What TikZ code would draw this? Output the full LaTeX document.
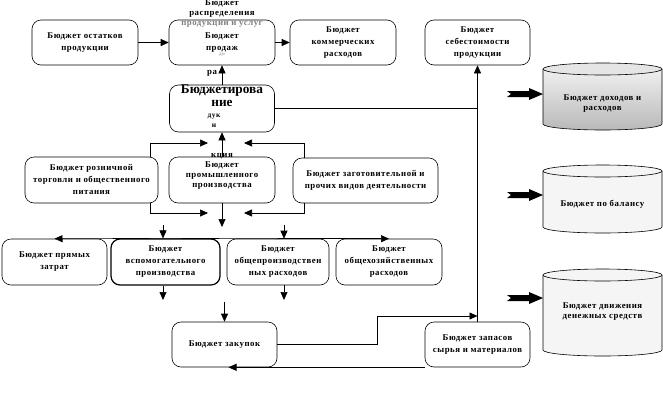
\documentclass[tikz,border=0pt]{standalone}
\usepackage{fontspec}
\setmainfont{Liberation Serif}
\newfontfamily\diafont[LetterSpace=6]{Liberation Serif}
\usetikzlibrary{arrows.meta, calc}

\tikzset{
    budgetbox/.style={draw, rounded corners=9pt, minimum height=45pt, align=center, inner sep=1pt, font=\diafont\bfseries\fontsize{8.8}{12}\selectfont},
    textonly/.style={align=center, inner sep=0pt, font=\diafont\bfseries\fontsize{8.8}{10}\selectfont},
    arr/.style={-{Triangle[length=8pt,width=7pt]}},
    cyl/.style={draw, line width=0.6pt}
}

\begin{document}
\begin{tikzpicture}[x=1pt, y=-1pt, line width=0.6pt]
    \useasboundingbox (0,0) rectangle (663,405);

    % Top row
    \node[budgetbox, minimum width=106pt] (ostatki) at (85,42.5) {Бюджет остатков\\продукции};
    \node[budgetbox, minimum width=106pt] (prodazhi) at (222,42.5) {Бюджет\\продаж};
    \node[textonly] (raspr) at (222,14) {Бюджет\\распределения\\\textcolor{gray}{продукции и услуг}};
    \node[textonly, font=\diafont\fontsize{5}{6}\selectfont, text=gray] (frdi) at (222,55) {ди};
    \node[budgetbox, minimum width=106pt] (kommerch) at (343,42.5) {Бюджет\\коммерческих\\расходов};
    \node[budgetbox, minimum width=105pt] (sebest) at (477.5,42.5) {Бюджет\\себестоимости\\продукции};
    \node[textonly] (frra) at (212,73) {ра};

    % Budgeting
    \node[budgetbox, minimum width=105pt, minimum height=47pt] (budget) at (222,108.5) {};
    \node[textonly, font=\bfseries\fontsize{13.3}{13}\selectfont] (budgettxt) at (222,96) {Бюджетирова\\ние};
    \node[textonly, font=\diafont\bfseries\fontsize{7.5}{10}\selectfont] (frduk) at (214,121) {дук\\н};

    % Second row
    \node[budgetbox, minimum width=133pt, minimum height=46pt] (roznica) at (91.5,180) {Бюджет розничной\\торговли и общественного\\питания};
    \node[budgetbox, minimum width=106pt, minimum height=46pt] (prom) at (222,180) {};
    \node[textonly] (promtxt) at (222,171) {кция\\Бюджет\\промышленного\\производства};
    \node[budgetbox, minimum width=145pt] (zagot) at (365.5,180.5) {Бюджет заготовительной и\\прочих видов деятельности};

    % Third row
    \node[budgetbox, minimum width=105pt, minimum height=46pt] (pryam) at (54.5,262) {Бюджет прямых\\затрат};
    \node[budgetbox, minimum width=109pt, minimum height=46pt, line width=1.2pt] (vspom) at (165.5,262) {Бюджет\\вспомогательного\\производства};
    \node[budgetbox, minimum width=102pt, minimum height=46pt] (obshepr) at (278,262) {Бюджет\\общепроизводствен\\ных расходов};
    \node[budgetbox, minimum width=106pt, minimum height=46pt] (obshehoz) at (389,262) {Бюджет\\общехозяйственных\\расходов};

    % Bottom row
    \node[budgetbox, minimum width=105pt] (zakup) at (224.5,344.5) {Бюджет закупок};
    \node[budgetbox, minimum width=105pt] (zapas) at (477.5,344.5) {Бюджет запасов\\сырья и материалов};

    % Cylinders
    \draw[cyl, top color=gray!12, bottom color=gray!55] (543,69) -- (543,124) arc[start angle=180, end angle=0, x radius=59.5, y radius=6] -- (662,69);
    \draw[cyl, fill=gray!20] (602.5,69) ellipse [x radius=59.5, y radius=6];
    \node[textonly] (dohody) at (602.5,104) {Бюджет доходов и\\расходов};

    \draw[cyl, fill=gray!8] (543,171) -- (543,227) arc[start angle=180, end angle=0, x radius=59.5, y radius=6] -- (662,171);
    \draw[cyl, fill=gray!8] (602.5,171) ellipse [x radius=59.5, y radius=6];
    \node[textonly] (balans) at (602.5,204) {Бюджет по балансу};

    \draw[cyl, fill=gray!8] (543,275) -- (543,350) arc[start angle=180, end angle=0, x radius=59.5, y radius=6] -- (662,275);
    \draw[cyl, fill=gray!8] (602.5,275) ellipse [x radius=59.5, y radius=6];
    \node[textonly] (dengi) at (602.5,312) {Бюджет движения\\денежных средств};

    % Block arrows
    \fill (507,91) -- (529,91) -- (529,88) -- (543,94) -- (529,100) -- (529,97) -- (507,97) -- (511,94) -- cycle;
    \fill (507,192) -- (529,192) -- (529,189) -- (543,195) -- (529,201) -- (529,198) -- (507,198) -- (511,195) -- cycle;
    \fill (507,295) -- (529,295) -- (529,292) -- (543,298) -- (529,304) -- (529,301) -- (507,301) -- (511,298) -- cycle;

    % Free ends
    \coordinate (lt) at (208,143);
    \coordinate (rt) at (244,143);
    \coordinate (lb) at (208,213);
    \coordinate (rb) at (244,213);
    \coordinate (pd) at (222,227);
    \coordinate (u1) at (163,225);
    \coordinate (u2) at (284,225);
    \coordinate (d1) at (163,300);
    \coordinate (d2) at (284,300);
    \coordinate (z0) at (224.5,302);
    \coordinate (jn) at (477.5,316);

    % Connectors
    \draw[arr] (ostatki.east) -- (prodazhi.west);
    \draw[arr] (prodazhi.east) -- (kommerch.west);
    \draw[arr] (budget.north) -- (prodazhi.south);
    \draw[arr] (prom.north) -- (budget.south);
    \draw (budget.east) -- (budget.east -| sebest.south);
    \draw[arr] (zapas.north) -- (sebest.south);

    \draw[arr] ([xshift=-8pt]roznica.north east) |- (lt);
    \draw[arr] ([xshift=-8pt]roznica.south east) |- (lb);
    \draw[arr] ([xshift=12pt]zagot.north west) |- (rt);
    \draw[arr] ([xshift=12pt]zagot.south west) |- (rb);
    \draw[arr] (prom.south) -- (pd);

    \draw[arr] (u1) -- (u1 |- vspom.north);
    \draw[arr] (u2) -- (u2 |- obshepr.north);
    \draw[arr] (vspom.north) -- (pryam.north);
    \draw (vspom.north) -- (obshepr.north);
    \draw[arr] (obshepr.north) -- (obshehoz.north);
    \draw[arr] (vspom.south -| d1) -- (d1);
    \draw[arr] (obshepr.south -| d2) -- (d2);

    \draw[arr] (z0) -- (z0 |- zakup.north);
    \draw[arr] (zakup.east) -- ++(100,0) |- (jn);
    \draw[arr] (zapas.south west) -- ([xshift=4pt]zakup.south);
\end{tikzpicture}
\end{document}
